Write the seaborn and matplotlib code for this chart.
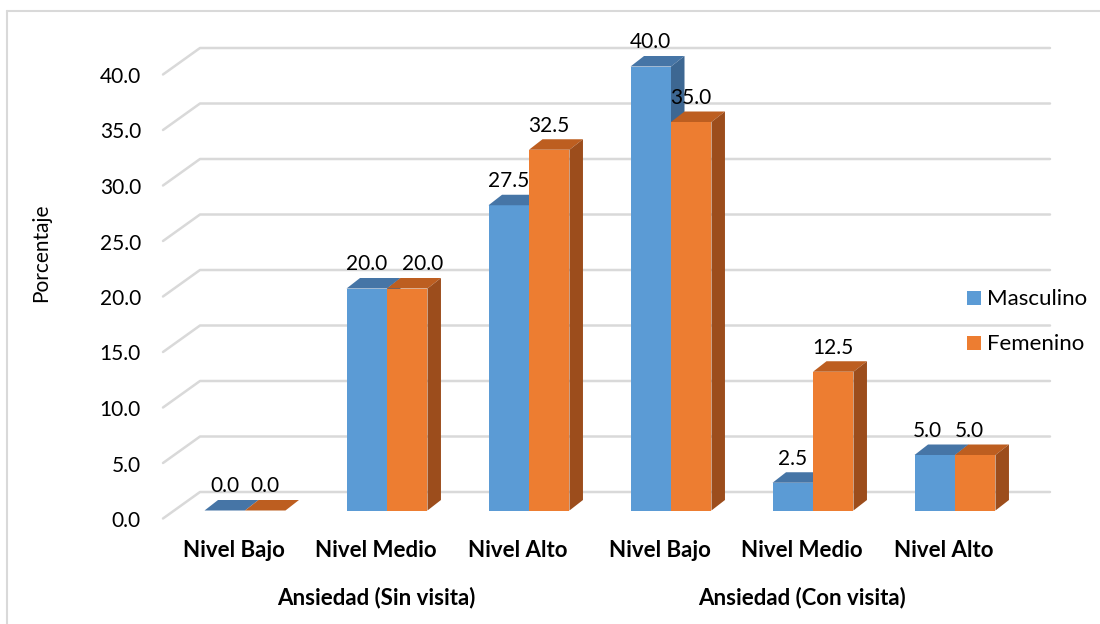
import matplotlib
matplotlib.use("Agg")
import matplotlib.pyplot as plt
import seaborn as sns
import pandas as pd
from matplotlib.patches import Polygon, Rectangle
from matplotlib.lines import Line2D
from matplotlib.transforms import IdentityTransform, Affine2D, blended_transform_factory

# ---------------- data ----------------
cat_keys = ["SV_Bajo", "SV_Medio", "SV_Alto", "CV_Bajo", "CV_Medio", "CV_Alto"]
tick_labels = ["Nivel Bajo", "Nivel Medio", "Nivel Alto", "Nivel Bajo", "Nivel Medio", "Nivel Alto"]
group_labels = ["Ansiedad (Sin visita)", "Ansiedad (Con visita)"]
series = ["Masculino", "Femenino"]
masculino = [0.0, 20.0, 27.5, 40.0, 2.5, 5.0]
femenino = [0.0, 20.0, 32.5, 35.0, 12.5, 5.0]
y_ticks = [0, 5, 10, 15, 20, 25, 30, 35, 40]
y_label = "Porcentaje"

# ---------------- style ----------------
W, H = 1100, 624
FONT = ["Lato", "DejaVu Sans"]
FS_NUM = 15
FS_TXT = 16
blue, orange = "#5b9bd5", "#ed7d31"
tops = {blue: "#4675a6", orange: "#bd5e20"}
sides = {blue: "#3d6792", orange: "#9c4d1c"}
grid_c = "#D9D9D9"
DX, DY = 13.5, 10.5  # bar depth in pixels
# horizontal nudges (pixels) of value labels, as placed by the original chart
label_nudge = {(orange, 1): 15, (blue, 5): -7, (orange, 5): -6}

sns.set_theme(style="white")
plt.rcParams["font.family"] = FONT

df = pd.DataFrame({
    "cat": cat_keys * 2,
    "sexo": [series[0]] * len(cat_keys) + [series[1]] * len(cat_keys),
    "valor": masculino + femenino,
})

fig = plt.figure(figsize=(W / 100, H / 100), dpi=100)
fig.patch.set_facecolor("white")
ax = fig.add_axes([174 / W, 113.5 / H, 852 / W, 466.2 / H])
sns.barplot(data=df, x="cat", y="valor", hue="sexo", order=cat_keys, hue_order=series,
            palette=[blue, orange], width=0.57, saturation=1, legend=False, ax=ax,
            edgecolor="none", linewidth=0)
ax.set_xlim(-0.5, 5.5)
ax.set_ylim(0, 42)
ax.axis("off")

ident = IdentityTransform()

def top_px(y_top):
    return H - y_top

# outer border (left & top visible)
fig.add_artist(Line2D([7, 7], [top_px(11), 0], transform=ident, color=grid_c, lw=1.5))
fig.add_artist(Line2D([7, W], [top_px(11), top_px(11)], transform=ident, color=grid_c, lw=1.5))

# gridlines (3D side wall + back wall) and y tick labels
for v in y_ticks:
    yb = ax.transData.transform((0, v))[1]
    yf = yb - 8
    yk = yb + 18.5
    fig.add_artist(Line2D([163, 200, 1050], [yf, yk, yk], transform=ident,
                          color=grid_c, lw=1.8, zorder=0))
    fig.text(141, yf - 8.5, f"{v:.1f}", transform=ident, ha="right", va="baseline",
             fontsize=FS_NUM, color="#000000")

# 3D faces for bars
for p in list(ax.patches):
    color = matplotlib.colors.to_hex(p.get_facecolor()).lower()
    if color not in tops:
        continue
    z = 2 if color == blue else 3
    p.set_zorder(z)
    x0d, w = p.get_x(), p.get_width()
    hgt = p.get_height()
    cat_idx = int(round(x0d + w / 2 + (0.1 if color == blue else -0.1)))
    (x0, y0) = ax.transData.transform((x0d, 0))
    (x1, yt) = ax.transData.transform((x0d + w, hgt))
    top = Polygon([(x0, yt), (x1, yt), (x1 + DX, yt + DY), (x0 + DX, yt + DY)],
                  closed=True, transform=ident, facecolor=tops[color], edgecolor="none",
                  zorder=z, clip_on=False)
    side = Polygon([(x1, y0), (x1 + DX, y0 + DY), (x1 + DX, yt + DY), (x1, yt)],
                   closed=True, transform=ident, facecolor=sides[color], edgecolor="none",
                   zorder=z, clip_on=False)
    ax.add_patch(top)
    ax.add_patch(side)
    nud = label_nudge.get((color, cat_idx), 0)
    ax.text(x0d + w / 2, hgt, f"{hgt:.1f}",
            transform=ax.transData + Affine2D().translate(nud, 18),
            ha="center", va="baseline", fontsize=FS_NUM, color="#000000", zorder=10,
            clip_on=False)

# category labels
lab_tr = blended_transform_factory(ax.transData, ident)
for i, lab in enumerate(tick_labels):
    ax.text(i, top_px(557), lab, transform=lab_tr + Affine2D().translate(-11, 0),
            ha="center", va="baseline", fontsize=FS_TXT, fontweight="bold", color="#000000",
            clip_on=False)
for g, lab in enumerate(group_labels):
    ax.text(1 + 3 * g, top_px(604), lab, transform=lab_tr + Affine2D().translate(-11, 0),
            ha="center", va="baseline", fontsize=FS_TXT, fontweight="bold", color="#000000",
            clip_on=False)

# y axis title
fig.text(41, top_px(253), y_label, transform=ident, rotation=90, ha="center", va="center",
         fontsize=FS_NUM, color="#000000")

# legend
for k, (name, col) in enumerate(zip(series, [blue, orange])):
    base = 305 + 45 * k
    fig.add_artist(Rectangle((967, top_px(base)), 14, 14, transform=ident,
                             facecolor=col, edgecolor="none"))
    fig.text(987, top_px(base), name, transform=ident, ha="left", va="baseline",
             fontsize=FS_TXT, color="#000000")

fig.savefig("out.png", dpi=100, facecolor="white")
